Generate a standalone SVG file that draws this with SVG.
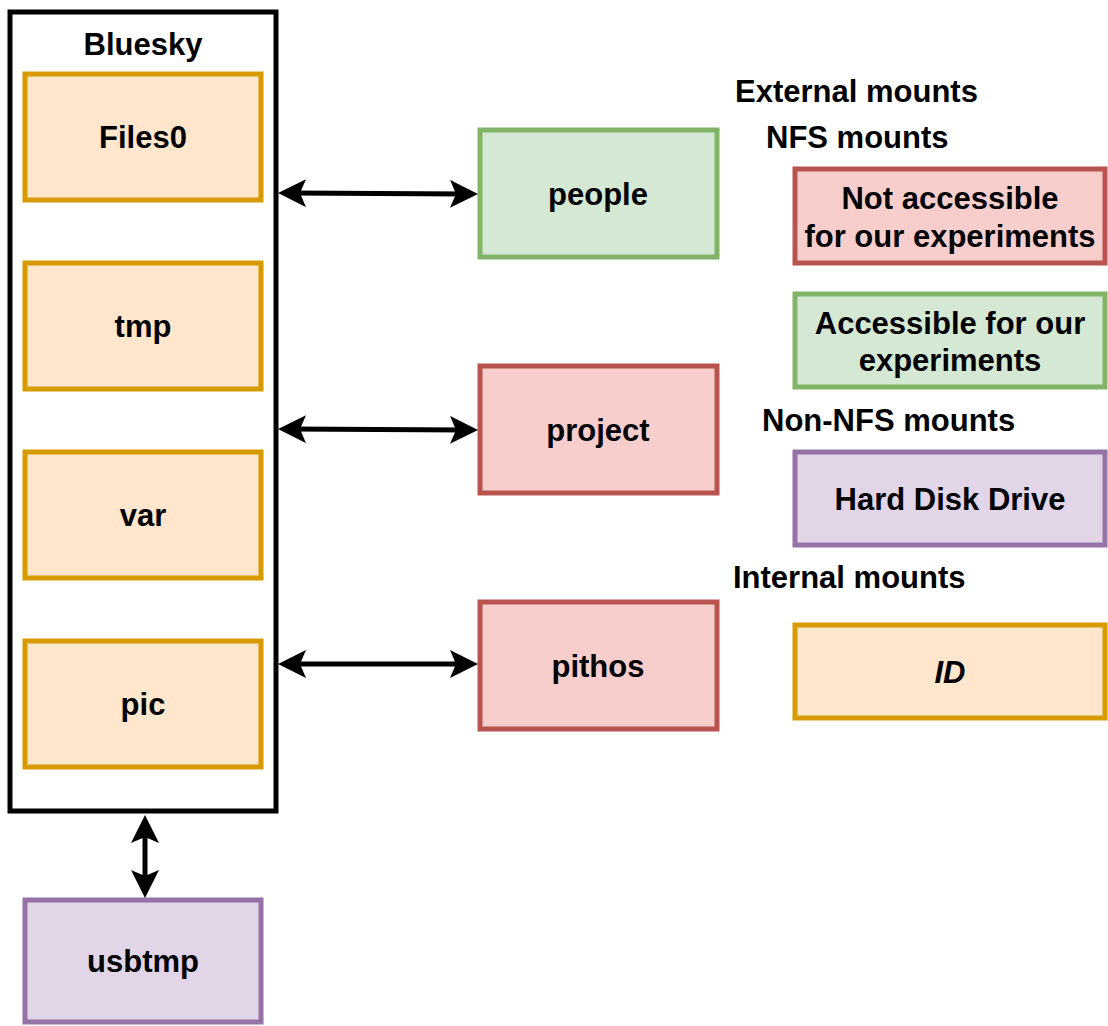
<svg xmlns="http://www.w3.org/2000/svg" width="1108" height="1026" viewBox="0 0 1108 1026">
<style>
text{font-family:"Liberation Sans",Arial,Helvetica,sans-serif;font-weight:bold;font-size:31px;fill:#000;text-anchor:middle}
.l{text-anchor:start}
.orange{fill:#ffe6cc;stroke:#d79b00;stroke-width:5}
.green{fill:#d5e8d4;stroke:#82b366;stroke-width:5}
.red{fill:#f8cecc;stroke:#b85450;stroke-width:5}
.purple{fill:#e1d5e7;stroke:#9673a6;stroke-width:5}
.edge{fill:none;stroke:#000;stroke-width:5;marker-start:url(#arr);marker-end:url(#arr)}
</style>
<defs>
<marker id="arr" markerUnits="userSpaceOnUse" viewBox="0 0 28 28" markerWidth="28" markerHeight="28" refX="16" refY="14" orient="auto-start-reverse">
<path d="M0,0 L28,14 L0,28 L6,14 Z" fill="#000"/>
</marker>
</defs>
<g id="bluesky">
<rect x="10" y="12" width="266" height="799" fill="#fff" stroke="#000" stroke-width="5"/>
<text x="143" y="55">Bluesky</text>
</g>
<g id="files0"><rect class="orange" x="25" y="74" width="236" height="126"/><text x="143" y="148">Files0</text></g>
<g id="tmp"><rect class="orange" x="25" y="263" width="236" height="126"/><text x="143" y="337">tmp</text></g>
<g id="var"><rect class="orange" x="25" y="452" width="236" height="126"/><text x="143" y="526">var</text></g>
<g id="pic"><rect class="orange" x="25" y="641" width="236" height="126"/><text x="143" y="715">pic</text></g>
<g id="usbtmp"><rect class="purple" x="25" y="900" width="236" height="122"/><text x="143" y="972">usbtmp</text></g>
<g id="people"><rect class="green" x="480" y="130" width="237" height="127"/><text x="598" y="205">people</text></g>
<g id="project"><rect class="red" x="480" y="366" width="237" height="127"/><text x="598" y="441">project</text></g>
<g id="pithos"><rect class="red" x="480" y="602" width="237" height="127"/><text x="598" y="677">pithos</text></g>
<g id="legend-titles">
<text class="l" x="735" y="102">External mounts</text>
<text class="l" x="766" y="148">NFS mounts</text>
<text class="l" x="762" y="431">Non-NFS mounts</text>
<text class="l" x="733" y="588">Internal mounts</text>
</g>
<g id="not-accessible"><rect class="red" x="795" y="169" width="310" height="94"/><text x="950" y="209">Not accessible</text><text x="950" y="247">for our experiments</text></g>
<g id="accessible"><rect class="green" x="795" y="294" width="310" height="93"/><text x="950" y="334">Accessible for our</text><text x="950" y="371">experiments</text></g>
<g id="hdd"><rect class="purple" x="795" y="452" width="310" height="93"/><text x="950" y="510">Hard Disk Drive</text></g>
<g id="id"><rect class="orange" x="795" y="625" width="310" height="93"/><text x="950" y="683" font-style="italic">ID</text></g>
<g id="connectors">
<path class="edge" d="M290,193 L466,194"/>
<path class="edge" d="M290,429 L466,430"/>
<path class="edge" d="M290,664 L466,664"/>
<path class="edge" d="M145,827 L145,886"/>
</g>
</svg>
